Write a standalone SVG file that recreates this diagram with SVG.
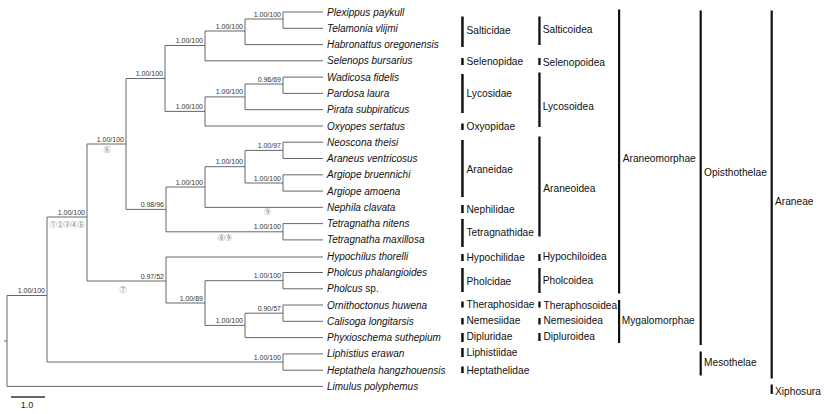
<svg xmlns="http://www.w3.org/2000/svg" width="824" height="414" viewBox="0 0 824 414">
<style>
.br{fill:none;stroke:#666;stroke-width:1}
.tip{font-family:"Liberation Sans",Arial,sans-serif;font-size:10px;font-style:italic;fill:#111}
.rom{font-style:normal}
.sup{font-family:"Liberation Sans",Arial,sans-serif;font-size:7px;fill:#333;text-anchor:end}
.cir{font-family:"Noto Sans CJK SC","DejaVu Sans",sans-serif;font-size:7px;fill:#666;text-anchor:middle}
.lab{font-family:"Liberation Sans",Arial,sans-serif;font-size:10.2px;fill:#111}
.bar{fill:#111}
</style>
<rect width="824" height="414" fill="#fff"/>
<g id="connectors">
<path class="br" d="M4,341H7M7,295.5V386.4M7,295.5H47M7,386.4H323
M47,217V362M47,217H87M47,362H283
M283,353.9V370.2M283,353.9H323M283,370.2H323
M87,144V281M87,144H126M87,281H166
M126,78.5V209.4M126,78.5H165M126,209.4H166
M165,45.5V111.4M165,45.5H205M165,111.4H205
M205,31V60.8M205,31H245M205,60.8H323
M245,19V44.6M245,19H283M245,44.6H323
M283,12V28.3M283,12H323M283,28.3H323
M205,96.9V126M205,96.9H245M205,126H323
M245,84V109.7M245,84H283M245,109.7H323
M283,77.1V93.4M283,77.1H323M283,93.4H323
M166,187V231.8M166,187H205M166,231.8H283
M205,166.7V207.4M205,166.7H245M205,207.4H323
M245,150.4V183M245,150.4H283M245,183H283
M283,142.2V158.5M283,142.2H323M283,158.5H323
M283,174.8V191.1M283,174.8H323M283,191.1H323
M283,223.6V239.9M283,223.6H323M283,239.9H323
M166,257V303M166,257H323M166,303H205
M205,280.7V325.4M205,280.7H283M205,325.4H245
M283,272.5V288.8M283,272.5H323M283,288.8H323
M245,313.2V337.6M245,313.2H283M245,337.6H323
M283,305V321.3M283,305H323M283,321.3H323"/>
<path d="M11,397H45" stroke="#333" stroke-width="1.3"/>
<text x="27" y="408" font-family="Liberation Sans,Arial,sans-serif" font-size="9" fill="#222" text-anchor="middle">1.0</text>
</g>
<g id="support">
<text class="sup" x="281" y="16.5">1.00/100</text>
<text class="sup" x="243" y="28.5">1.00/100</text>
<text class="sup" x="203" y="43">1.00/100</text>
<text class="sup" x="281" y="81.5">0.96/69</text>
<text class="sup" x="243" y="94.4">1.00/100</text>
<text class="sup" x="203" y="108.9">1.00/100</text>
<text class="sup" x="163" y="76">1.00/100</text>
<text class="sup" x="124" y="141.5">1.00/100</text>
<text class="sup" x="281" y="147.9">1.00/97</text>
<text class="sup" x="281" y="180.5">1.00/100</text>
<text class="sup" x="243" y="164.2">1.00/100</text>
<text class="sup" x="203" y="184.5">1.00/100</text>
<text class="sup" x="281" y="229.3">1.00/100</text>
<text class="sup" x="164" y="206.9">0.98/96</text>
<text class="sup" x="164" y="278.5">0.97/52</text>
<text class="sup" x="203" y="300.5">1.00/89</text>
<text class="sup" x="281" y="278.2">1.00/100</text>
<text class="sup" x="281" y="310.7">0.90/57</text>
<text class="sup" x="243" y="322.9">1.00/100</text>
<text class="sup" x="281" y="359.5">1.00/100</text>
<text class="sup" x="85" y="214.5">1.00/100</text>
<text class="sup" x="45" y="293">1.00/100</text>
<text class="cir" x="107" y="151.5">⑥</text>
<text class="cir" x="67" y="226.5">①②③④⑤</text>
<text class="cir" x="123" y="291.8">⑦</text>
<text class="cir" x="267.5" y="213.5">⑨</text>
<text class="cir" x="225" y="240">⑧⑨</text>
</g>
<g id="taxa">
<g id="t-plexippus"><text class="tip" x="327" y="15.5">Plexippus paykull</text></g>
<g id="t-telamonia"><text class="tip" x="327" y="31.8">Telamonia vlijmi</text></g>
<g id="t-habronattus"><text class="tip" x="327" y="48.1">Habronattus oregonensis</text></g>
<g id="t-selenops"><text class="tip" x="327" y="64.3">Selenops bursarius</text></g>
<g id="t-wadicosa"><text class="tip" x="327" y="80.6">Wadicosa fidelis</text></g>
<g id="t-pardosa"><text class="tip" x="327" y="96.9">Pardosa laura</text></g>
<g id="t-pirata"><text class="tip" x="327" y="113.2">Pirata subpiraticus</text></g>
<g id="t-oxyopes"><text class="tip" x="327" y="129.5">Oxyopes sertatus</text></g>
<g id="t-neoscona"><text class="tip" x="327" y="145.7">Neoscona theisi</text></g>
<g id="t-araneus"><text class="tip" x="327" y="162">Araneus ventricosus</text></g>
<g id="t-argiope-b"><text class="tip" x="327" y="178.3">Argiope bruennichi</text></g>
<g id="t-argiope-a"><text class="tip" x="327" y="194.6">Argiope amoena</text></g>
<g id="t-nephila"><text class="tip" x="327" y="210.9">Nephila clavata</text></g>
<g id="t-tetragnatha-n"><text class="tip" x="327" y="227.1">Tetragnatha nitens</text></g>
<g id="t-tetragnatha-m"><text class="tip" x="327" y="243.4">Tetragnatha maxillosa</text></g>
<g id="t-hypochilus"><text class="tip" x="327" y="260.2">Hypochilus thorelli</text></g>
<g id="t-pholcus-p"><text class="tip" x="327" y="276">Pholcus phalangioides</text></g>
<g id="t-pholcus-sp"><text class="tip" x="327" y="292.3">Pholcus <tspan class="rom">sp.</tspan></text></g>
<g id="t-ornithoctonus"><text class="tip" x="327" y="308.5">Ornithoctonus huwena</text></g>
<g id="t-calisoga"><text class="tip" x="327" y="324.8">Calisoga longitarsis</text></g>
<g id="t-phyxioschema"><text class="tip" x="327" y="341.1">Phyxioschema suthepium</text></g>
<g id="t-liphistius"><text class="tip" x="327" y="357.4">Liphistius erawan</text></g>
<g id="t-heptathela"><text class="tip" x="327" y="373.7">Heptathela hangzhouensis</text></g>
<g id="t-limulus"><text class="tip" x="327" y="389.9">Limulus polyphemus</text></g>
</g>
<g id="families">
<g id="f-salticidae"><rect class="bar" x="461.2" y="16.5" width="2.5" height="30.5"/><text class="lab" x="466.5" y="33.7">Salticidae</text></g>
<g id="f-selenopidae"><rect class="bar" x="461.2" y="58" width="2.5" height="7"/><text class="lab" x="466.5" y="64.7">Selenopidae</text></g>
<g id="f-lycosidae"><rect class="bar" x="461.2" y="74" width="2.5" height="39"/><text class="lab" x="466.5" y="97">Lycosidae</text></g>
<g id="f-oxyopidae"><rect class="bar" x="461.2" y="123.5" width="2.5" height="6.5"/><text class="lab" x="466.5" y="130.4">Oxyopidae</text></g>
<g id="f-araneidae"><rect class="bar" x="461.2" y="140" width="2.5" height="57"/><text class="lab" x="466.5" y="173">Araneidae</text></g>
<g id="f-nephilidae"><rect class="bar" x="461.2" y="205" width="2.5" height="8"/><text class="lab" x="466.5" y="212.7">Nephilidae</text></g>
<g id="f-tetragnathidae"><rect class="bar" x="461.2" y="219" width="2.5" height="28"/><text class="lab" x="466.5" y="236.4">Tetragnathidae</text></g>
<g id="f-hypochilidae"><rect class="bar" x="461.2" y="254" width="2.5" height="7"/><text class="lab" x="466.5" y="260.7">Hypochilidae</text></g>
<g id="f-pholcidae"><rect class="bar" x="461.2" y="268" width="2.5" height="24"/><text class="lab" x="466.5" y="284.7">Pholcidae</text></g>
<g id="f-theraphosidae"><rect class="bar" x="461.2" y="301.5" width="2.5" height="6"/><text class="lab" x="466.5" y="308">Theraphosidae</text></g>
<g id="f-nemesiidae"><rect class="bar" x="461.2" y="318" width="2.5" height="6.5"/><text class="lab" x="466.5" y="324.4">Nemesiidae</text></g>
<g id="f-dipluridae"><rect class="bar" x="461.2" y="333" width="2.5" height="9"/><text class="lab" x="466.5" y="340.4">Dipluridae</text></g>
<g id="f-liphistiidae"><rect class="bar" x="461.2" y="348" width="2.5" height="9"/><text class="lab" x="466.5" y="356">Liphistiidae</text></g>
<g id="f-heptathelidae"><rect class="bar" x="461.2" y="366.5" width="2.5" height="6.5"/><text class="lab" x="466.5" y="373.7">Heptathelidae</text></g>
</g>
<g id="superfamilies">
<g id="s-salticoidea"><rect class="bar" x="538.3" y="16.5" width="2.3" height="28.5"/><text class="lab" x="542.7" y="33">Salticoidea</text></g>
<g id="s-selenopoidea"><rect class="bar" x="538.3" y="58" width="2.3" height="7"/><text class="lab" x="542.7" y="65.7">Selenopoidea</text></g>
<g id="s-lycosoidea"><rect class="bar" x="538.3" y="72.5" width="2.3" height="54.5"/><text class="lab" x="542.7" y="110.4">Lycosoidea</text></g>
<g id="s-araneoidea"><rect class="bar" x="538.3" y="136.5" width="2.3" height="100"/><text class="lab" x="543.3" y="192">Araneoidea</text></g>
<g id="s-hypochiloidea"><rect class="bar" x="538.3" y="254" width="2.3" height="7"/><text class="lab" x="542.7" y="260.4">Hypochiloidea</text></g>
<g id="s-pholcoidea"><rect class="bar" x="538.3" y="268" width="2.3" height="25"/><text class="lab" x="542.7" y="283.7">Pholcoidea</text></g>
<g id="s-theraphosoidea"><rect class="bar" x="538.3" y="301.5" width="2.3" height="6"/><text class="lab" x="543.5" y="308.7">Theraphosoidea</text></g>
<g id="s-nemesioidea"><rect class="bar" x="538.3" y="318" width="2.3" height="6.5"/><text class="lab" x="543.5" y="324.4">Nemesioidea</text></g>
<g id="s-dipluroidea"><rect class="bar" x="538.3" y="333" width="2.3" height="8"/><text class="lab" x="543.5" y="339.7">Dipluroidea</text></g>
</g>
<g id="higher">
<g id="h-araneomorphae"><rect class="bar" x="618" y="9.5" width="2.2" height="284"/><text class="lab" x="622.7" y="162">Araneomorphae</text></g>
<g id="h-mygalomorphae"><rect class="bar" x="618" y="300" width="2.2" height="43"/><text class="lab" x="621.7" y="324.4">Mygalomorphae</text></g>
<g id="h-opisthothelae"><rect class="bar" x="699.6" y="10.5" width="2.2" height="334.5"/><text class="lab" x="704" y="176">Opisthothelae</text></g>
<g id="h-mesothelae"><rect class="bar" x="699.6" y="351.5" width="2.2" height="24"/><text class="lab" x="704" y="366">Mesothelae</text></g>
<g id="h-araneae"><rect class="bar" x="770.6" y="10.5" width="2.2" height="368"/><text class="lab" x="775" y="205.4">Araneae</text></g>
<g id="h-xiphosura"><rect class="bar" x="770.6" y="384.5" width="2.2" height="9.5"/><text class="lab" x="775" y="394.7">Xiphosura</text></g>
</g>
</svg>
